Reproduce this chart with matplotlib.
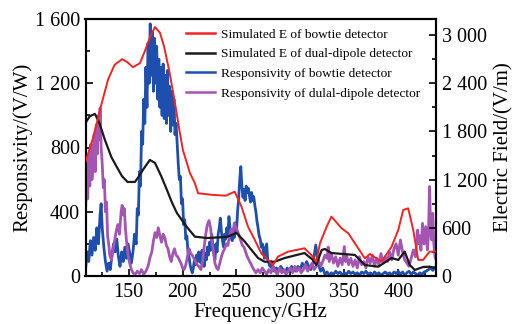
import matplotlib
matplotlib.use("Agg")
import matplotlib.pyplot as plt
from matplotlib.ticker import MultipleLocator, FuncFormatter

plt.rcParams['font.family'] = ['Liberation Serif', 'DejaVu Serif']
plt.rcParams['mathtext.fontset'] = 'stix'

# ---------------- data ----------------
# Simulated E of bowtie detector (right axis, V/m)
red_f = [110, 117, 125, 131, 137, 144, 149, 154, 160.5, 165, 170, 174.4, 179, 183, 188, 193,
         197.5, 200.3, 206.8, 211.4, 214.4, 228, 240, 248.4, 254.6, 260.7, 267, 273, 277.8,
         283.9, 288.5, 297.8, 313, 319.4, 324, 327.4, 333.6, 338, 347.5, 353.7, 359.8, 369,
         373.7, 384.5, 393.8, 400, 404.6, 409.2, 413.9, 418.5, 423, 429, 435]
red_e = [1420, 1720, 2150, 2450, 2630, 2700, 2660, 2600, 2650, 2800, 2980, 3100, 3030, 2850, 2530, 2150,
         1780, 1570, 1283, 1155, 1030, 1010, 1000, 1050, 864, 614, 448, 283, 220,
         137, 241, 303, 345, 262, 178, 407, 614, 739, 594, 532, 407, 220,
         274, 178, 365, 573, 822, 843, 573, 200, 200, 303, 303]

# Simulated E of dual-dipole detector (right axis, V/m)
blk_f = [110, 114, 118.8, 123, 128, 134, 139, 144, 149, 155.8, 160, 163.2, 169.7, 174.4, 180, 185.5,
         190, 194.7, 204, 211.4, 222.5, 241, 250, 257.7, 263.9, 270, 276, 285.5, 294.7, 313, 321,
         324, 329, 332, 338, 359.8, 369, 381.5, 393.8, 400, 406, 410.7, 415.3, 423, 429, 435]
blk_e = [1906, 1990, 2018, 1900, 1695, 1480, 1358, 1240, 1171, 1171, 1250, 1321, 1445, 1408, 1250, 1072,
         920, 785, 610, 490, 473, 486, 536, 428, 324, 224, 178, 178, 224, 286, 200,
         137, 324, 336, 286, 262, 137, 116, 224, 200, 303, 137, 75, 112, 116, 100]

# Responsivity of bowtie detector (left axis, V/W)
blue_f = [110, 111.5, 113, 114.5, 116, 117.5, 119, 120.5, 122, 123.5, 124.5, 125.5, 127, 128.5, 130,
          131.5, 133, 134.5, 136, 137.5, 139, 140.5, 142, 143.5, 145, 146.5, 148, 149.5, 151, 152.5,
          154, 155.5, 157, 158, 159, 160, 161, 162, 163, 164, 165, 166, 167, 168, 169, 170, 171, 172,
          173, 174, 175, 176, 177, 178, 179, 180, 181, 182, 183, 184, 185, 186, 187, 188, 189, 190,
          191, 192, 193, 194, 195, 196, 197, 198, 199, 200, 201, 202, 203, 204, 205, 206, 207, 208,
          209, 210, 211, 212, 213, 214, 215, 216, 217, 218, 219, 220, 221, 222, 223, 224, 225, 226,
          227, 228, 229, 230, 231, 232, 233, 234, 235, 236, 237, 238, 239, 240, 241, 242, 243, 244,
          245, 246, 247, 248, 249, 250, 251, 252, 253, 254, 255, 256, 257, 258, 259, 260, 261, 262,
          263, 264, 265, 266, 267, 268, 269, 270, 271, 272, 273, 274, 275, 276, 277, 278, 279, 280,
          281, 282, 283, 284, 285, 287, 289, 291, 293, 295, 297, 299, 301, 303, 305, 307, 309, 311,
          313, 315, 317, 319, 321, 322.5, 323.5, 325, 326.5, 328, 330, 332, 334, 336, 338, 340, 342,
          344, 346, 348, 350, 352, 354, 356, 358, 360, 362, 364, 366, 368, 370, 372, 374, 376, 378,
          380, 382, 384, 386, 388, 390, 392, 394, 396, 398, 400, 402, 404, 406, 408, 410, 412, 414,
          416, 418, 420, 422, 424, 426, 428, 430, 432, 434, 435]
blue_r = [40, 150, 90, 220, 130, 240, 160, 300, 200, 380, 450, 300, 180, 90, 30,
          80, 40, 130, 200, 150, 230, 120, 60, 150, 90, 180, 110, 200, 140, 80,
          150, 260, 200, 420, 380, 650, 560, 900, 820, 1100, 950, 1300, 1050, 1450, 1200, 1570, 1250, 1520,
          1150, 1480, 1200, 1430, 1100, 1350, 1050, 1300, 1000, 1320, 980, 1250, 950, 1280, 1000, 1180, 900, 1150,
          940, 1100, 880, 950, 820, 700, 600, 620, 450, 480, 320, 350, 230, 250, 150, 120, 70, 40,
          20, 50, 100, 70, 130, 90, 150, 110, 80, 160, 120, 60, 140, 100, 180, 130, 210, 160,
          260, 200, 140, 100, 200, 150, 260, 300, 360, 280, 220, 180, 260, 230, 300, 250, 370, 300,
          240, 220, 270, 240, 330, 280, 400, 480, 600, 681, 560, 490, 540, 470, 560, 520, 546, 500,
          460, 520, 470, 494, 440, 400, 340, 300, 250, 230, 180, 200, 150, 110, 180, 200, 100, 80,
          60, 90, 40, 60, 30, 50, 30, 60, 40, 20, 50, 30, 60, 40, 30, 60, 40, 80,
          50, 90, 60, 40, 80, 150, 193, 120, 60, 30, 50, 10, 25, 5, 20, 10, 30,
          15, 25, 5, 20, 10, 30, 15, 25, 10, 20, 5, 25, 15, 30, 10, 20, 5, 25,
          10, 20, 5, 15, 25, 10, 20, 5, 25, 15, 30, 10, 25, 5, 20, 30, 10, 25,
          15, 5, 20, 10, 25, 30, 40, 50, 35, 55, 40]

# Responsivity of dual-dipole detector (left axis, V/W)
pur_f = [110, 111, 112, 113, 114, 115, 116, 117, 118, 119, 120, 121, 122, 123, 123.5, 124.5, 125.5,
         126.5, 127.5, 128.5, 129.5, 130.5, 131.5, 132.5, 134, 135.5, 137, 138.5, 140, 141.5, 143, 144,
         145, 146, 147, 148, 149.5, 151, 152.5, 154, 156, 158, 160, 162, 164, 166, 168, 170, 171.5,
         173, 174.5, 176, 177.5, 179, 180.5, 182, 183.5, 185, 186.5, 188, 189.5, 191, 192.5, 194,
         195.5, 197, 198.5, 200, 201.5, 203, 204.5, 206, 207.5, 209, 210.5, 212, 213.5, 215, 217,
         218.5, 220, 221.5, 223, 224.5, 226, 227, 228.5, 230, 231.5, 233, 234.5, 236, 237.5, 239,
         240.5, 242, 243.5, 245, 246.5, 248, 249.5, 251, 252.5, 254, 255.5, 257, 258.5, 260, 261.5,
         263, 264.5, 266, 268, 270, 272, 274, 276, 278, 280, 282, 284, 286, 288, 290, 292, 294, 296,
         298, 300, 302, 304, 306, 308, 310, 312, 314, 316, 318, 320, 322, 324, 326, 328, 330, 332,
         334, 335, 336, 338, 340, 342, 344, 346, 348, 350, 351, 352, 354, 356, 358, 360, 362, 364,
         366, 368, 370, 372, 374, 376, 378, 380, 382, 384, 386, 388, 390, 392, 394, 396, 398, 400,
         402, 404, 406, 408, 410, 412, 414, 416, 418, 419, 420, 421, 422.5, 424, 425.5, 427, 428,
         429, 430, 431, 432, 433, 434, 435]
pur_r = [400, 600, 480, 750, 560, 820, 600, 700, 880, 650, 940, 760, 1000, 850, 1045, 800, 700,
         550, 600, 400, 460, 250, 200, 130, 100, 160, 220, 280, 320, 260, 400, 440,
         380, 420, 300, 220, 130, 80, 40, 20, 10, 30, 15, 40, 10, 30, 60, 120, 150,
         220, 270, 240, 300, 250, 210, 260, 240, 190, 170, 120, 90, 140, 170, 130,
         120, 100, 80, 50, 40, 70, 120, 170, 140, 130, 110, 90, 70, 60, 40,
         90, 180, 260, 320, 345, 300, 230, 160, 80, 50, 40, 80, 120, 150, 170,
         200, 190, 250, 290, 260, 330, 300, 280, 250, 220, 190, 180, 150, 120, 100,
         80, 60, 40, 20, 40, 20, 50, 30, 10, 40, 20, 60, 30, 10, 50, 20, 40, 10,
         30, 50, 20, 60, 30, 50, 20, 40, 70, 30, 50, 80, 40, 60, 100, 60, 90, 130,
         110, 180, 90, 140, 80, 120, 60, 110, 70, 183, 90, 130, 70, 110, 60, 100, 50, 120,
         70, 90, 50, 120, 80, 130, 60, 110, 70, 140, 80, 120, 90, 150, 100, 170, 200, 130,
         224, 150, 100, 80, 60, 110, 162, 120, 286, 200, 250, 160, 328, 200, 307, 162, 250,
         557, 300, 224, 390, 200, 120, 100]

labels = ["Simulated E of bowtie detector",
          "Simulated E of dual-dipole detector",
          "Responsivity of bowtie detector",
          "Responsivity of dulal-dipole detector"]

x_ticks = [150, 200, 250, 300, 350, 400]
left_ticks = [0, 400, 800, 1200, 1600]
right_ticks = [0, 600, 1200, 1800, 2400, 3000]

# ---------------- plot ----------------
fig = plt.figure(figsize=(5.13, 3.24), dpi=100)
ax = fig.add_axes([85.5 / 513, 48 / 324, 350.5 / 513, 257 / 324])
ax2 = ax.twinx()

c_red = "#f42323"
c_blk = "#1a1a1a"
c_blue = "#1f4fae"
c_pur = "#a455b4"

l3, = ax.plot(blue_f, blue_r, color=c_blue, lw=2.0, zorder=2)
l4, = ax.plot(pur_f, pur_r, color=c_pur, lw=2.0, zorder=3)
l1, = ax2.plot(red_f, red_e, color=c_red, lw=1.4, zorder=3)
l2, = ax2.plot(blk_f, blk_e, color=c_blk, lw=1.6, zorder=2)

ax.set_xlim(110, 435)
ax.set_ylim(0, 1600)
ax2.set_ylim(0, 3200)

fmt = FuncFormatter(lambda v, p: f"{int(round(v)):,}".replace(",", " "))
ax.set_xticks(x_ticks)
ax.xaxis.set_minor_locator(MultipleLocator(25))
ax.set_yticks(left_ticks)
ax.yaxis.set_minor_locator(MultipleLocator(200))
ax.yaxis.set_major_formatter(fmt)
ax2.set_yticks(right_ticks)
ax2.yaxis.set_minor_locator(MultipleLocator(300))
ax2.yaxis.set_major_formatter(fmt)

for a in (ax, ax2):
    a.tick_params(which='both', direction='in', labelsize=14.5, width=1.2)
    a.tick_params(which='major', length=5)
    a.tick_params(which='minor', length=3)
    for s in a.spines.values():
        s.set_linewidth(1.5)
ax.tick_params(axis='x', pad=5)
ax.tick_params(axis='y', pad=4)
ax2.tick_params(axis='y', pad=4)

ax.set_xlabel("Frequency/GHz", fontsize=15, labelpad=1)
ax.set_ylabel("Responsivity/(V/W)", fontsize=15, labelpad=2)
ax2.set_ylabel("Electric Field/(V/m)", fontsize=15, labelpad=5)

leg = ax2.legend([l1, l2, l3, l4], labels, loc='upper left', bbox_to_anchor=(0.26, 1.0),
                 frameon=False, fontsize=9.6, handlelength=2.2, handletextpad=0.4,
                 labelspacing=0.55, borderaxespad=0.3)
for h in leg.get_lines():
    h.set_linewidth(1.8)

fig.savefig("out.png", dpi=100)
